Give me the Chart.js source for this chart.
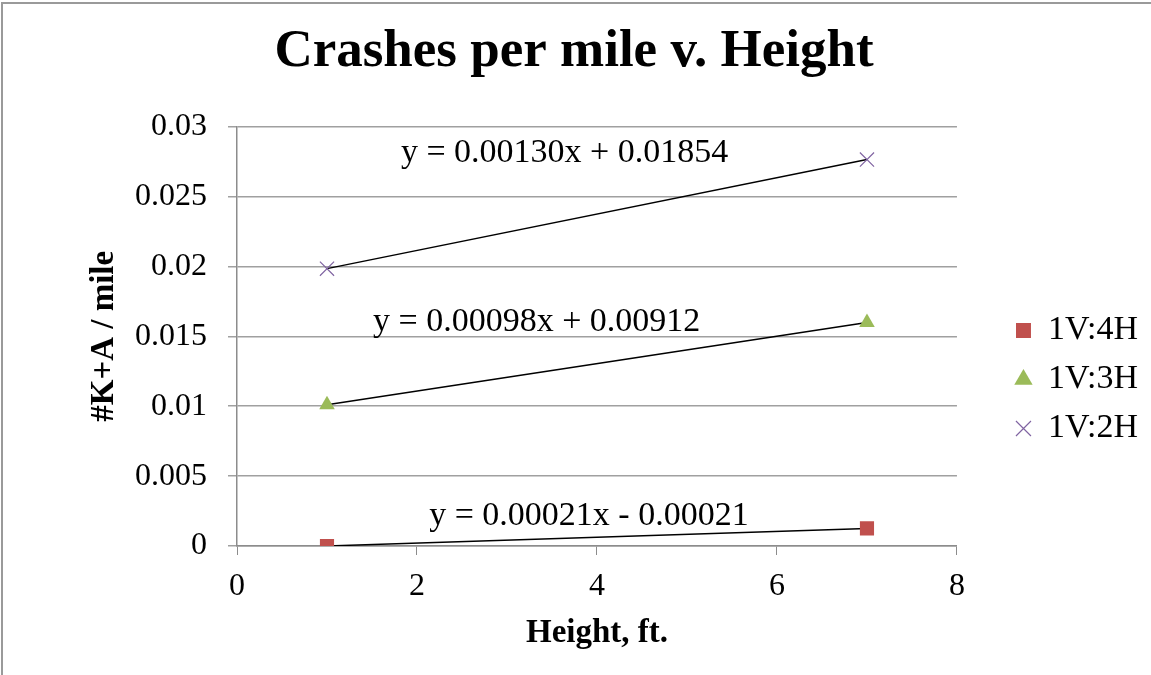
<!DOCTYPE html>
<html>
<head>
<meta charset="utf-8">
<script src="https://cdn.jsdelivr.net/npm/chart.js@4.4.1/dist/chart.umd.min.js"></script>
<style>
  html, body { margin: 0; padding: 0; background: #fff; }
  #wrap { width: 1151px; height: 675px; position: relative; }
</style>
</head>
<body>
<div id="wrap"><canvas id="c" width="1151" height="675"></canvas></div>
<script>
// ---- data ----
const heights = [1, 7];
const seriesNames = ['1V:4H', '1V:3H', '1V:2H'];
const values4H = [0.0, 0.00126];
const values3H = [0.0101, 0.01598];
const values2H = [0.01984, 0.02764];
const trend4H = [0.0, 0.00126];
const trend3H = [0.0101, 0.01598];
const trend2H = [0.01984, 0.02764];
const equations = ['y = 0.00021x - 0.00021', 'y = 0.00098x + 0.00912', 'y = 0.00130x + 0.01854'];
const xTicks = [0, 2, 4, 6, 8];
const yTicks = [0, 0.005, 0.01, 0.015, 0.02, 0.025, 0.03];

// label anchor points (data units) for the trendline equations
const eqAnchorX = [3.91, 3.33, 3.64];
const eqAnchorY = [0.00215, 0.01604, 0.02814];

const FONT = 'Liberation Serif';
const colors = ['#C0504D', '#9BBB59', '#8064A2'];
const styles = ['rect', 'triangle', 'crossRot'];
const radii = [10, 9, 10];

function pts(xs, ys) { return xs.map((x, i) => ({ x: x, y: ys[i] })); }

const seriesVals = [values4H, values3H, values2H];
const trendVals = [trend4H, trend3H, trend2H];

const datasets = [];
seriesVals.forEach((v, i) => {
  datasets.push({
    label: seriesNames[i],
    data: pts(heights, v),
    showLine: false,
    pointStyle: styles[i],
    pointRadius: radii[i],
    pointHoverRadius: radii[i],
    backgroundColor: colors[i],
    borderColor: colors[i],
    pointBorderWidth: i === 2 ? 1.2 : 0,
    borderWidth: i === 2 ? 1.2 : 0,
    order: 1
  });
});
trendVals.forEach((v, i) => {
  datasets.push({
    label: '',
    data: pts(heights, v),
    showLine: true,
    borderColor: '#000',
    borderWidth: 1.5,
    pointRadius: 0,
    fill: false,
    order: 2
  });
});

const framePlugin = {
  id: 'frame',
  beforeDraw(chart) {
    const ctx = chart.ctx;
    ctx.save();
    ctx.fillStyle = '#fff';
    ctx.fillRect(0, 0, chart.width, chart.height);
    ctx.strokeStyle = '#9a9a9a';
    ctx.lineWidth = 2;
    ctx.beginPath();
    ctx.moveTo(2, chart.height);
    ctx.lineTo(2, 3);
    ctx.lineTo(chart.width, 3);
    ctx.stroke();
    ctx.restore();
  }
};

const eqPlugin = {
  id: 'eqLabels',
  afterDatasetsDraw(chart) {
    const ctx = chart.ctx;
    const xs = chart.scales.x, ys = chart.scales.y;
    ctx.save();
    ctx.font = '34px "' + FONT + '"';
    ctx.fillStyle = '#000';
    ctx.textAlign = 'center';
    ctx.textBaseline = 'middle';
    equations.forEach((t, i) => {
      ctx.fillText(t, xs.getPixelForValue(eqAnchorX[i]), ys.getPixelForValue(eqAnchorY[i]));
    });
    ctx.restore();
  }
};

new Chart(document.getElementById('c'), {
  type: 'scatter',
  data: { datasets: datasets },
  plugins: [framePlugin, eqPlugin],
  options: {
    responsive: false,
    animation: false,
    devicePixelRatio: 1,
    layout: { padding: { left: 0, right: 3, top: 0, bottom: 0 } },
    plugins: {
      tooltip: { enabled: false },
      title: {
        display: true,
        text: 'Crashes per mile v. Height',
        color: '#000',
        font: { family: FONT, size: 53, weight: 'bold', lineHeight: 1.2 },
        padding: { top: 21, bottom: 42 }
      },
      legend: {
        position: 'right',
        align: 'center',
        title: { display: true, text: ' ', font: { size: 10, lineHeight: 1.2 }, padding: { top: 72, bottom: 0 } },
        labels: {
          usePointStyle: true,
          boxWidth: 15,
          boxHeight: 15,
          padding: 15,
          color: '#000',
          font: { family: FONT, size: 34 },
          filter: (item) => item.text !== ''
        }
      }
    },
    scales: {
      x: {
        type: 'linear',
        min: 0, max: 8,
        afterBuildTicks: (s) => { s.ticks = xTicks.map(v => ({ value: v })); },
        afterFit: (s) => { s.height = 129; },
        ticks: { color: '#000', font: { family: FONT, size: 32 }, padding: 12 },
        grid: { display: true, drawOnChartArea: false, drawTicks: true, tickLength: 9, color: '#8c8c8c' },
        border: { color: '#8c8c8c', width: 1.5 },
        title: {
          display: true, text: 'Height, ft.', color: '#000',
          font: { family: FONT, size: 33, weight: 'bold', lineHeight: 1.2 },
          padding: { top: 0, bottom: 22 }
        }
      },
      y: {
        type: 'linear',
        min: 0, max: 0.03,
        afterBuildTicks: (s) => { s.ticks = yTicks.map(v => ({ value: v })); },
        afterFit: (s) => { s.width = 237; },
        ticks: {
          color: '#000', font: { family: FONT, size: 32 }, padding: 21,
          callback: (v) => String(parseFloat(Number(v).toFixed(4)))
        },
        grid: { color: '#a0a0a0', lineWidth: 1.5, tickLength: 9 },
        border: { color: '#8c8c8c', width: 1.5 },
        title: {
          display: true, text: '#K+A / mile', color: '#000',
          font: { family: FONT, size: 33, weight: 'bold', lineHeight: 1.2 },
          padding: { top: 85, bottom: 0 }
        }
      },
      gap: {
        type: 'linear',
        position: 'right',
        display: true,
        afterFit: (s) => { s.width = 44; },
        ticks: { display: false },
        grid: { display: false },
        border: { display: false }
      }
    }
  }
});
</script>
</body>
</html>
